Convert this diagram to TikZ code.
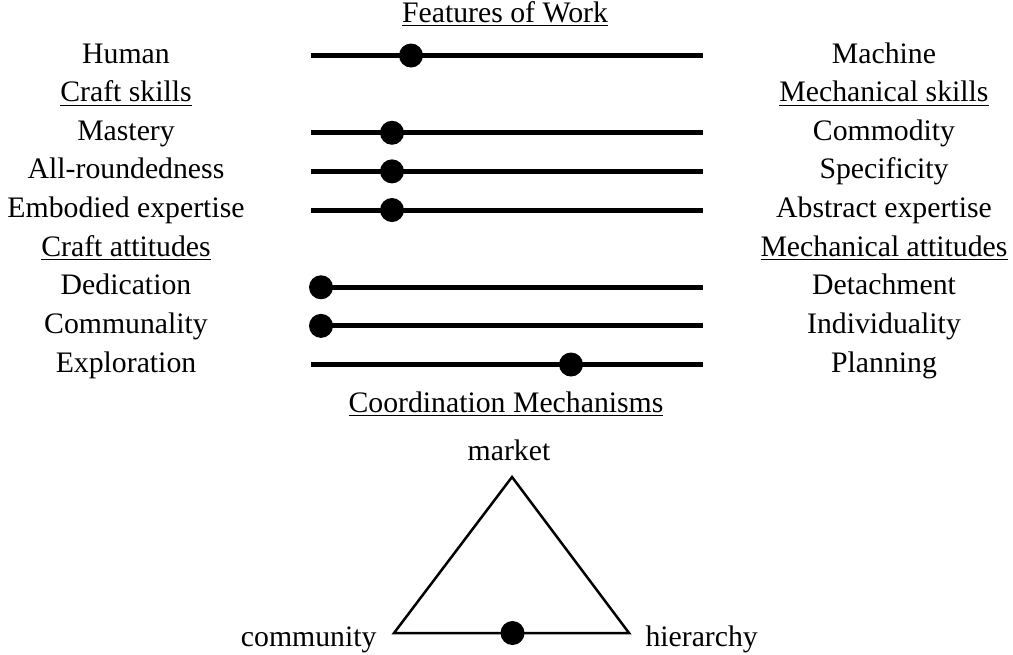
\documentclass[tikz,border=0pt]{standalone}
\usepackage{fontspec}
\setmainfont{Liberation Serif}

\begin{document}
\begin{tikzpicture}[%
x=0.4pt, y=-0.4pt,
every node/.style={font=\fontsize{11.9pt}{14pt}\selectfont},
etikett/.style={anchor=base,inner sep=0pt,text height=8pt,text depth=2pt},
kolonne/.style={row sep={15.45pt,between origins},nodes={etikett}},
skala/.style={line width=2pt},
prikk/.style={circle,fill=black,inner sep=0pt,minimum size=9.6pt},
trekant/.style={line width=1pt,line join=miter}]
\useasboundingbox (0,0) rectangle (1013,654);
\node [etikett] (tittel) at (505,22) {\underline{Features of Work}};
\matrix [kolonne,matrix anchor=human.base] (venstre) at (126,63) {
	\node (human) {Human}; \\
	\node (craftskills) {\underline{Craft skills}}; \\
	\node (mastery) {Mastery}; \\
	\node (allround) {All-roundedness}; \\
	\node (embodied) {Embodied expertise}; \\
	\node (craftatt) {\underline{Craft attitudes}}; \\
	\node (dedication) {Dedication}; \\
	\node (communality) {Communality}; \\
	\node (exploration) {Exploration}; \\
};
\matrix [kolonne,matrix anchor=machine.base] (hoyre) at (884,63) {
	\node (machine) {Machine}; \\
	\node (mechskills) {\underline{Mechanical skills}}; \\
	\node (commodity) {Commodity}; \\
	\node (specificity) {Specificity}; \\
	\node (abstract) {Abstract expertise}; \\
	\node (mechatt) {\underline{Mechanical attitudes}}; \\
	\node (detachment) {Detachment}; \\
	\node (individuality) {Individuality}; \\
	\node (planning) {Planning}; \\
};
\coordinate (start) at (311,0);
\coordinate (slutt) at (703,0);
\draw [skala] (start |- human)       -- (slutt |- human);
\draw [skala] (start |- mastery)     -- (slutt |- mastery);
\draw [skala] (start |- allround)    -- (slutt |- allround);
\draw [skala] (start |- embodied)    -- (slutt |- embodied);
\draw [skala] (start |- dedication)  -- (slutt |- dedication);
\draw [skala] (start |- communality) -- (slutt |- communality);
\draw [skala] (start |- exploration) -- (slutt |- exploration);
\node [prikk] (phuman)       at (411,0 |- human) {};
\node [prikk] (pmastery)     at (392,0 |- mastery) {};
\node [prikk] (pallround)    at (392,0 |- allround) {};
\node [prikk] (pembodied)    at (392,0 |- embodied) {};
\node [prikk] (pdedication)  at (321,0 |- dedication) {};
\node [prikk] (pcommunality) at (321,0 |- communality) {};
\node [prikk] (pexploration) at (571,0 |- exploration) {};
\node [etikett] (koordinering) at (506,412) {\underline{Coordination Mechanisms}};
\coordinate (topp) at (512,477);
\coordinate (venstrehjorne) at (394,633);
\coordinate (hoyrehjorne) at (629,633);
\draw [trekant] (topp) -- (venstrehjorne) -- (hoyrehjorne) -- cycle;
\node [prikk] (pkoordinering) at (512.5,633) {};
\node [etikett] (market) at (509,460) {market};
\node [etikett,anchor=base east] (community) at (377,646) {community};
\node [etikett,anchor=base west] (hierarchy) at (645,646) {hierarchy};
\end{tikzpicture}
\end{document}
